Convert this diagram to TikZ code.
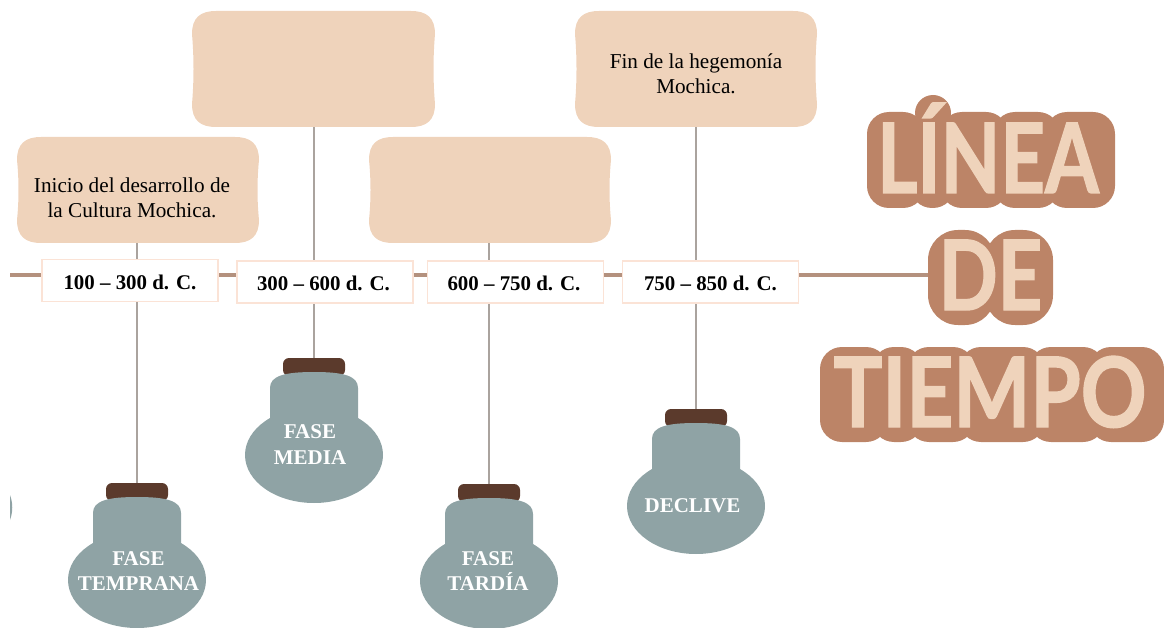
\documentclass[tikz,border=0pt]{standalone}
\usepackage{fontspec}
\usepackage{graphicx}
\setmainfont{Liberation Serif}
\newfontfamily\titlefont[FakeBold=1.5]{Lato}
\definecolor{peach}{HTML}{EFD3BB}
\definecolor{dateline}{HTML}{FBE3D6}
\definecolor{axisbrown}{HTML}{B4917E}
\definecolor{stemgrey}{HTML}{AAA39E}
\definecolor{titlebrown}{HTML}{BC8467}
\definecolor{lampgrey}{HTML}{8FA3A5}
\definecolor{capbrown}{HTML}{5B3A2C}
\tikzset{
    softtext/.style={font=\fontsize{21.2}{25.5}\selectfont, align=center},
    datebox/.style={draw=dateline, fill=white, line width=1.2pt, minimum width=176pt, minimum height=42pt, text height=17pt, text depth=0pt, font=\fontsize{20.9}{24}\selectfont\bfseries},
    lamptext/.style={text=white, font=\fontsize{21}{25.5}\selectfont\bfseries, align=center},
    lampcap/.style={fill=capbrown, rounded corners=6pt, minimum width=62pt, minimum height=18pt},
    titleblob/.style={fill=titlebrown, rounded corners=22pt},
    titleword/.style={text=peach, font=\fontsize{97}{97}\selectfont\titlefont\bfseries, anchor=base, inner sep=0pt},
    stem/.style={draw=stemgrey, line width=1.8pt}
}
% name, left x, top y, width, height
\newcommand{\softbox}[5]{
    \begin{scope}[shift={(#2,#3)}]
        \fill[peach] (0,23) .. controls (0,7) and (8,0) .. (24,0) -- ({#4-24},0)
            .. controls ({#4-8},0) and (#4,7) .. (#4,23)
            .. controls ({#4-2},{#5*0.4}) and ({#4-2},{#5*0.6}) .. (#4,{#5-23})
            .. controls (#4,{#5-7}) and ({#4-8},#5) .. ({#4-24},#5) -- (24,#5)
            .. controls (8,#5) and (0,{#5-7}) .. (0,{#5-23})
            .. controls (2,{#5*0.6}) and (2,{#5*0.4}) .. (0,23) -- cycle;
        \node[minimum width=#4pt, minimum height=#5pt, inner sep=0pt] (#1) at ({#4/2},{#5/2}) {};
    \end{scope}
}
% name, x, top y, text position, text
\newcommand{\lamp}[5]{
    \node[lampcap] (#1) at (#2,#3+9) {};
    \begin{scope}[shift={(#2,#3)}]
        \fill[lampgrey] (-44,72) -- (-44,30) .. controls (-44,18) and (-30,14) .. (0,14)
            .. controls (30,14) and (44,18) .. (44,30) -- (44,72) -- cycle;
        \fill[lampgrey] (0,97) ellipse (69 and 48);
        \node[lamptext] (#1text) at (#4) {#5};
    \end{scope}
}
\begin{document}
\begin{tikzpicture}[x=1pt, y=-1pt]
    \useasboundingbox (0,0) rectangle (1164,628);

    % Boxes on top
    \softbox{softa}{17}{137}{242}{106}
    \softbox{softb}{192}{11}{243}{116}
    \softbox{softc}{369}{137}{242}{106}
    \softbox{softd}{575}{11}{242}{116}
    \node[softtext] (texta) at (132,198) {Inicio del desarrollo de\\la Cultura Mochica.};
    \node[softtext] (textd) at (696,74) {Fin de la hegemonía\\Mochica.};

    % Lamps
    \lamp{capa}{137}{483}{1.5,88}{FASE\\TEMPRANA}
    \lamp{capb}{314}{358}{-4,86.5}{FASE\\MEDIA}
    \lamp{capc}{489}{484}{-1,87}{FASE\\TARDÍA}
    \lamp{capd}{696}{409}{-3.5,97}{DECLIVE}
    \fill[lampgrey] (10,495) .. controls (13,503) and (13,512) .. (10,520) -- cycle;

    % Title
    \foreach \xa/\xb in {867/925,910/955,940/1008,993/1060,1045/1115}
        \fill[titleblob] (\xa,112) rectangle (\xb,208);
    \fill[titlebrown] (933,113) circle (18);
    \foreach \xa/\xb in {928/995,985/1053}
        \fill[titleblob, rounded corners=30pt] (\xa,230) rectangle (\xb,325);
    \foreach \xa/\xb in {820/888,872/923,907/975,959/1045,1029/1105,1089/1164}
        \fill[titleblob] (\xa,347) rectangle (\xb,442);
    \node[titleword] (tlinea) at (988,193) {\scalebox{0.8}[1]{LÍNEA}};
    \node[titleword, minimum width=125pt] (tde) at (990.5,310) {\scalebox{0.8}[1]{DE}};
    \node[titleword] (ttiempo) at (990,427) {\scalebox{0.84}[1]{TIEMPO}};

    % Connectors
    \coordinate (axisstart) at (10,275);
    \draw[axisbrown, line width=4pt] (axisstart) -- (axisstart -| tde.west);
    \draw[stem] (capa.north |- softa.south) -- (capa.north);
    \draw[stem] (capb.north |- softb.south) -- (capb.north);
    \draw[stem] (capc.north |- softc.south) -- (capc.north);
    \draw[stem] (capd.north |- softd.south) -- (capd.north);

    % Dates
    \node[datebox] (datea) at (130,280.5) {100 – 300 d. C.};
    \node[datebox] (dateb) at (325,282) {\hspace*{-3pt}300 – 600 d. C.};
    \node[datebox] (datec) at (515.5,282) {\hspace*{-3pt}600 – 750 d. C.};
    \node[datebox] (dated) at (710.5,282) {750 – 850 d. C.};
\end{tikzpicture}
\end{document}
